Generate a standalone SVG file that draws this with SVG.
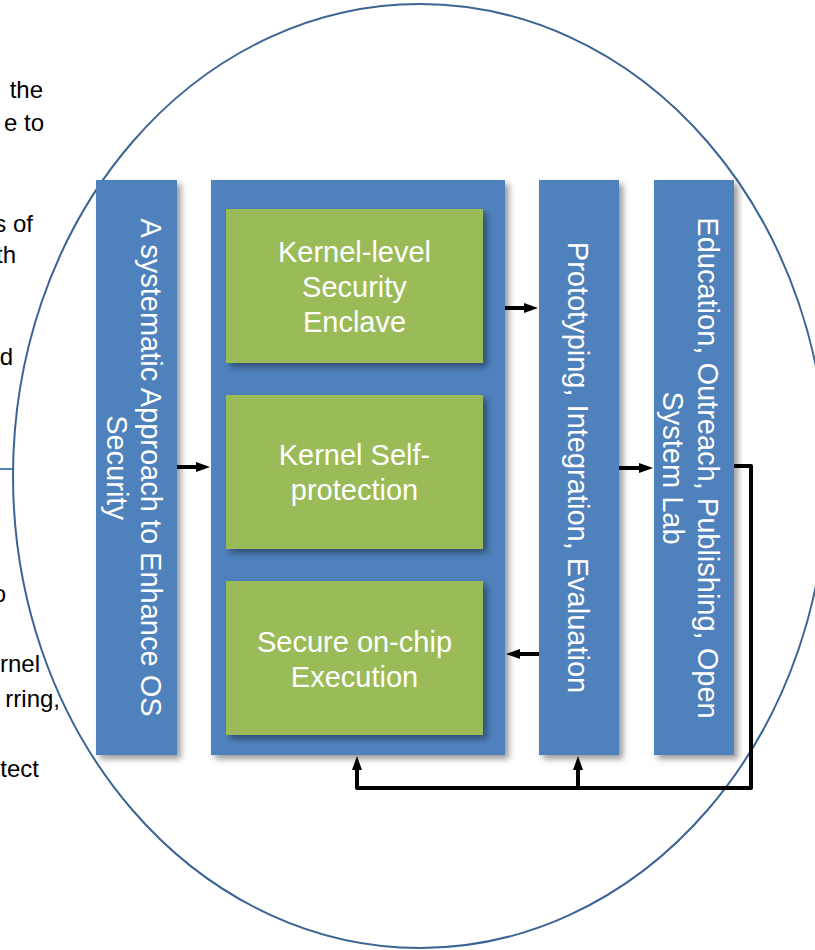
<svg xmlns="http://www.w3.org/2000/svg" width="815" height="950" viewBox="0 0 815 950">
  <defs>
    <style>
      .side { font-family: "Liberation Sans", Arial, sans-serif; font-size: 24px; fill: #000; text-anchor: end; }
      .lbl { font-family: "Liberation Sans", Arial, sans-serif; font-size: 29px; fill: #fff; text-anchor: middle; }
      .blue { fill: #4F81BD; }
      .green { fill: #9BBB59; }
      .wire { fill: none; stroke: #000; stroke-width: 4; }
    </style>
    <filter id="shadow" x="-20%" y="-20%" width="150%" height="150%">
      <feDropShadow dx="4" dy="4" stdDeviation="3" flood-color="#000" flood-opacity="0.4"/>
    </filter>
    <marker id="head" viewBox="0 0 14 10" refX="4" refY="5" markerWidth="14" markerHeight="10" markerUnits="userSpaceOnUse" orient="auto">
      <path d="M0,0 L14,5 L0,10 z" fill="#000"/>
    </marker>
  </defs>

  <rect width="815" height="950" fill="#fff"/>

  <!-- side text running in from the left margin -->
  <g id="side-text">
    <text class="side" x="43" y="98">the</text>
    <text class="side" x="44" y="131">e to</text>
    <text class="side" x="33" y="232">s of</text>
    <text class="side" x="16" y="263">th</text>
    <text class="side" x="13" y="365">d</text>
    <text class="side" x="6" y="602">o</text>
    <text class="side" x="40" y="672">rnel</text>
    <text class="side" x="60" y="707">rring,</text>
    <text class="side" x="39" y="777">tect</text>
  </g>
  <line x1="0" y1="469" x2="14" y2="469" stroke="#4F81BD" stroke-width="2"/>

  <!-- enclosing ellipse -->
  <ellipse cx="420" cy="476" rx="407" ry="472" fill="none" stroke="#3B6494" stroke-width="2"/>

  <!-- approach column -->
  <g id="approach">
    <rect class="blue" x="96" y="180" width="81" height="575" filter="url(#shadow)"/>
    <text class="lbl" transform="translate(141,467.5) rotate(90)">A systematic Approach to Enhance OS</text>
    <text class="lbl" transform="translate(107,467.5) rotate(90)">Security</text>
  </g>

  <!-- core research thrusts -->
  <g id="thrusts">
    <rect class="blue" x="211" y="180" width="294" height="575" filter="url(#shadow)"/>
  </g>
  <g id="enclave">
    <rect class="green" x="226" y="209" width="257" height="154" filter="url(#shadow)"/>
    <text class="lbl" x="354.5" y="262">Kernel-level</text>
    <text class="lbl" x="354.5" y="297">Security</text>
    <text class="lbl" x="354.5" y="332">Enclave</text>
  </g>
  <g id="self-protection">
    <rect class="green" x="226" y="395" width="257" height="154" filter="url(#shadow)"/>
    <text class="lbl" x="354.5" y="465">Kernel Self-</text>
    <text class="lbl" x="354.5" y="500">protection</text>
  </g>
  <g id="on-chip">
    <rect class="green" x="226" y="581" width="257" height="154" filter="url(#shadow)"/>
    <text class="lbl" x="354.5" y="652">Secure on-chip</text>
    <text class="lbl" x="354.5" y="687">Execution</text>
  </g>

  <!-- prototyping column -->
  <g id="prototyping">
    <rect class="blue" x="539" y="180" width="80" height="575" filter="url(#shadow)"/>
    <text class="lbl" transform="translate(568,467.5) rotate(90)">Prototyping, Integration, Evaluation</text>
  </g>

  <!-- education column -->
  <g id="education">
    <rect class="blue" x="654" y="180" width="80" height="575" filter="url(#shadow)"/>
    <text class="lbl" transform="translate(698,468) rotate(90)">Education, Outreach, Publishing, Open</text>
    <text class="lbl" transform="translate(663,468) rotate(90)">System Lab</text>
  </g>

  <!-- connectors -->
  <g id="connectors">
    <line class="wire" x1="177" y1="467" x2="200" y2="467" marker-end="url(#head)"/>
    <line class="wire" x1="505" y1="308" x2="528" y2="308" marker-end="url(#head)"/>
    <line class="wire" x1="619" y1="468" x2="643" y2="468" marker-end="url(#head)"/>
    <line class="wire" x1="539" y1="654" x2="516" y2="654" marker-end="url(#head)"/>
    <polyline class="wire" points="734,466 751,466 751,788 357,788 357,766" stroke-linejoin="round" marker-end="url(#head)"/>
    <line class="wire" x1="578" y1="788" x2="578" y2="766" marker-end="url(#head)"/>
  </g>
</svg>
